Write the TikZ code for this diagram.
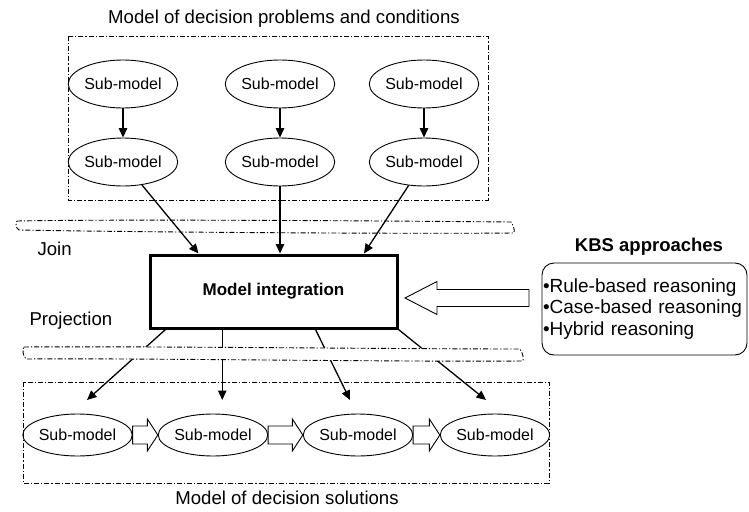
\documentclass[tikz,border=0pt]{standalone}
\usepackage{fontspec}
\setmainfont{Liberation Sans}
\usetikzlibrary{arrows.meta,calc,shapes.geometric}

% horizontal hollow block arrow: from, to, shaft half-height, head half-height, head length
\newcommand{\hblockarrow}[5]{%
  \draw[blockarrow] let \p1=(#1), \p2=(#2) in
    ({\x1},{\y1+#3}) -- ({\x2-(#5)},{\y1+#3}) -- ({\x2-(#5)},{\y1+#4}) -- ({\x2},{\y1})
    -- ({\x2-(#5)},{\y1-#4}) -- ({\x2-(#5)},{\y1-#3}) -- ({\x1},{\y1-#3}) -- cycle;}

\tikzset{
  submodel/.style={draw, line width=0.9pt, ellipse, inner sep=0pt,
    font=\fontsize{16}{19}\selectfont},
  topsub/.style={submodel, minimum width=93pt, minimum height=48pt},
  botsub/.style={submodel, minimum width=91pt, minimum height=42pt},
  group/.style={draw, line width=0.9pt, dash pattern=on 5pt off 2pt on 1.2pt off 2pt},
  band/.style={draw, line width=0.9pt, dash pattern=on 5pt off 2pt on 1.2pt off 2pt},
  arr/.style={line width=1.3pt, -{Triangle[length=9.5pt,width=8.5pt]}},
  blockarrow/.style={draw, line width=0.9pt, fill=white, line join=miter},
  caption/.style={font=\fontsize{18.6}{22}\selectfont},
  label/.style={font=\fontsize{18.6}{22}\selectfont},
}

\begin{document}
\begin{tikzpicture}[x=1pt, y=-1pt]
\useasboundingbox (0,0) rectangle (749,511);

% group frames and their captions
\draw[group] (68,36) rectangle (488,200);
\node[caption] (ttitle) at (284,19) {Model of decision problems and conditions};
\draw[group] (23,382) rectangle (549,483);
\node[caption] (btitle) at (287,498) {Model of decision solutions};

% upper sub-models
\node[topsub] (t1) at (123,84)  {Sub-model};
\node[topsub] (t2) at (280,84)  {Sub-model};
\node[topsub] (t3) at (424,84)  {Sub-model};
\node[topsub] (u1) at (123,162) {Sub-model};
\node[topsub] (u2) at (280,162) {Sub-model};
\node[topsub] (u3) at (424,162) {Sub-model};
\foreach \i in {1,2,3} \draw[arr] (t\i) -- (u\i);

% integration block
\node[draw, line width=3pt, minimum width=247pt, minimum height=73pt, inner sep=0pt,
  font=\fontsize{17}{20}\selectfont\bfseries] (mi) at (273.5,291.5) {Model integration};

\coordinate (j1) at ($(mi.north west)!0.2!(mi.north east)$);
\coordinate (j3) at ($(mi.north west)!0.862!(mi.north east)$);
\draw[arr] (u1) -- (j1);
\draw[arr] (u2) -- (u2 |- mi.north);
\draw[arr] (u3) -- (j3);

% lower sub-models chained by block arrows
\node[botsub] (e1) at (77.5,435) {Sub-model};
\node[botsub] (e2) at (213,435)  {Sub-model};
\node[botsub] (e3) at (358,435)  {Sub-model};
\node[botsub] (e4) at (495,435)  {Sub-model};
\hblockarrow{e1.east}{e2.west}{9pt}{16pt}{10.5pt}
\hblockarrow{e2.east}{e3.west}{9pt}{16pt}{10.5pt}
\hblockarrow{e3.east}{e4.west}{9pt}{16pt}{10.5pt}

% projection arrows
\coordinate (p1) at ($(mi.south west)!0.068!(mi.south east)$);
\coordinate (p2) at ($(mi.south west)!0.295!(mi.south east)$);
\coordinate (p3) at ($(mi.south west)!0.668!(mi.south east)$);
\coordinate (p4) at (mi.south east);
\coordinate (q1) at (87,400);
\coordinate (q2) at (p2 |- q1);
\coordinate (q3) at (350,400);
\coordinate (q4) at (486,400);
\foreach \i in {1,...,4} \draw[arr] (p\i) -- (q\i);

% join band
\draw[band] (17,221) .. controls (120,219) and (400,221) .. (511,222)
  .. controls (513,225) and (515,229) .. (514,233)
  .. controls (400,234) and (120,232) .. (19,230)
  .. controls (16,228) and (15,224) .. cycle;
\node[label, anchor=west] (join) at (34,249) {Join};

% projection band
\draw[band, fill=white] (24,347) .. controls (130,346) and (400,349) .. (520,349)
  .. controls (522,352) and (524,357) .. (523,361)
  .. controls (400,362) and (130,358) .. (26,359)
  .. controls (23,356) and (22,350) .. cycle;
\node[label, anchor=west] (proj) at (26,321) {Projection};

% knowledge-based approaches
\node[font=\fontsize{18.5}{22}\selectfont\bfseries] (kbst) at (649,247) {KBS approaches};
\node[draw, line width=0.9pt, rounded corners=12pt, text width=203pt, align=left,
  inner xsep=1pt, inner ysep=0pt, minimum height=92pt,
  font=\fontsize{19}{21.5}\selectfont] (kbs) at (644.5,309)
  {•Rule-based reasoning\\•Case-based reasoning\\•Hybrid reasoning};
\coordinate (ka) at (529,298);
\coordinate (kb) at (405,298);
\hblockarrow{ka}{kb}{8.5pt}{16.5pt}{-32pt}
\end{tikzpicture}
\end{document}
